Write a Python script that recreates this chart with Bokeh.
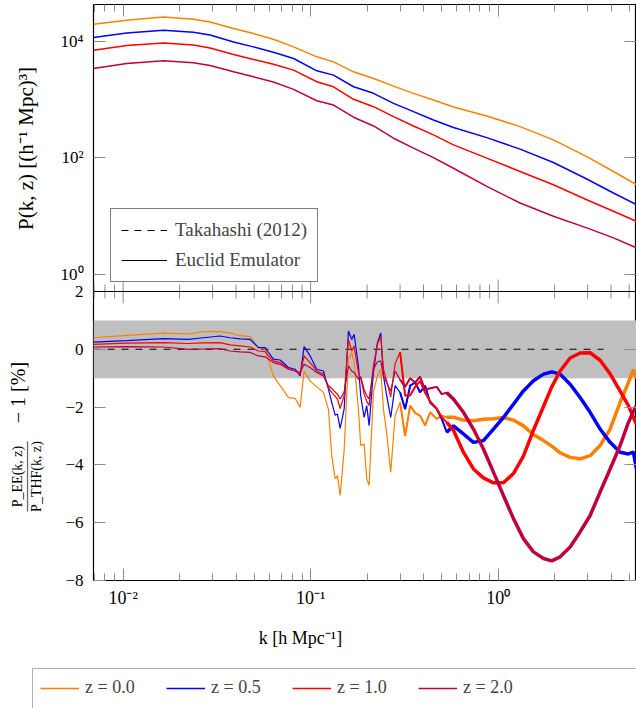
import math
from bokeh.plotting import figure
from bokeh.layouts import column, row
from bokeh.models import (Range1d, FixedTicker, LinearAxis, LogAxis, Legend, LegendItem,
                          BoxAnnotation, Label, Span, LogScale)
from bokeh.embed import file_html
from bokeh.resources import INLINE

FONT = "Liberation Serif"

# ---------------- data ----------------
redshift_labels = ["z = 0.0", "z = 0.5", "z = 1.0", "z = 2.0"]
series_colors = ["#FF8000", "#0000FF", "#FF0000", "#BF0040"]

# top panel: P(k, z)
k_pk = [0.00695, 0.01045, 0.0164, 0.0237, 0.0291, 0.0388, 0.0495, 0.0633, 0.0811, 0.1079,
        0.1324, 0.1694, 0.2165, 0.2768, 0.3535, 0.4519, 0.5777, 0.8697, 1.309, 1.971,
        2.969, 4.121, 5.47]
pk_z00 = [19560, 22870, 26000, 23770, 21390, 16490, 13550, 10820, 8000, 5400, 4430, 2990,
          2300, 1700, 1277, 980, 745, 523, 343, 203, 105, 58.3, 34.5]
pk_z05 = [11570, 13880, 15420, 14260, 12820, 9730, 8000, 6490, 5060, 3110, 2620, 1655,
          1277, 861, 619, 446, 332, 222, 141, 83.2, 43.3, 24.9, 15.7]
pk_z10 = [7020, 8440, 9350, 8640, 7680, 5930, 4870, 4040, 3195, 2015, 1655, 1008, 754,
          508, 352, 247, 167, 98.9, 58.4, 34.5, 19.1, 12.1, 8.15]
pk_z20 = [3413, 4155, 4605, 4256, 3847, 2989, 2453, 1992, 1493, 953, 805, 497, 352, 217,
          147, 101, 66.2, 32.3, 16.8, 9.93, 6.29, 4.24, 2.86]

# bottom panel: ratio P_EE / P_THF - 1 in percent
k_ratio = [0.00695, 0.01045, 0.0164, 0.0223, 0.0268, 0.0329, 0.0372, 0.0421, 0.0476, 0.0527,
           0.0572, 0.0595, 0.0633,
           0.0688, 0.0762, 0.0827, 0.0879, 0.0923, 0.0994, 0.1078, 0.1170, 0.1244, 0.1296,
           0.1351, 0.1390, 0.1437, 0.1509, 0.1591, 0.1657, 0.1706, 0.1798, 0.1850, 0.1929,
           0.1991, 0.2051, 0.2162, 0.2271, 0.2365, 0.2445, 0.2546, 0.2674, 0.2822, 0.3000,
           0.3192, 0.3394, 0.3608, 0.3837, 0.4080, 0.4338, 0.4705, 0.5003, 0.5319, 0.5775,
           0.6530, 0.7384, 0.8348, 0.9439, 1.067, 1.207, 1.364, 1.543, 1.745, 1.932, 2.142,
           2.421, 2.737, 3.095, 3.499, 3.956, 4.474, 4.953, 5.268, 5.465]
ratio_z00 = [0.40, 0.48, 0.56, 0.53, 0.61, 0.61, 0.57, 0.47, 0.44, 0.06, 0.00, -0.34, -0.92,
             -1.26, -1.67, -1.70, -2.01, -0.75, -1.10, -1.30, -1.49, -2.07, -3.68, -4.48, -4.37,
             -5.06, -3.50, -0.34, -0.11, -0.45, -2.07, -3.33, -3.28, -4.48, -4.71, -1.49, -0.92,
             -0.69, -2.07, -2.90, -4.25, -2.30, -1.84, -3.00, -1.95, -2.20, -2.30, -2.64, -2.18,
             -2.41, -2.30, -2.35, -2.35,
             -2.45, -2.47, -2.42, -2.40, -2.36, -2.45, -2.65, -2.95, -3.16, -3.35, -3.58, -3.74,
             -3.79, -3.68, -3.33, -2.76, -1.84, -1.15, -0.70, -1.00]
ratio_z05 = [0.25, 0.30, 0.37, 0.34, 0.40, 0.46, 0.40, 0.36, 0.34, 0.06, 0.06, -0.11, -0.34,
             -0.37, -0.63, -0.69, -0.92, 0.09, -0.23, -0.69, -0.75, -1.38, -1.84, -2.28, -2.24,
             -2.74, -2.07, 0.63, 0.34, 0.52, -0.57, -1.61, -2.36, -1.95, -2.64, -0.80, 0.23,
             0.57, -0.92, -1.61, -2.36, -1.26, -1.49, -2.07, -1.26, -1.15, -1.49, -1.26, -1.84,
             -2.07, -2.41, -2.87, -2.65,
             -2.93, -3.22, -3.16, -2.76, -2.36, -1.90, -1.44, -1.09, -0.86, -0.78, -0.86, -1.21,
             -1.67, -2.18, -2.76, -3.22, -3.56, -3.62, -3.56, -4.14]
ratio_z10 = [0.17, 0.21, 0.23, 0.20, 0.22, 0.23, 0.15, 0.12, 0.08, -0.06, -0.08, -0.23, -0.40,
             -0.46, -0.67, -0.75, -0.86, -0.23, -0.46, -0.75, -0.86, -1.32, -1.50, -1.62, -1.72,
             -2.05, -1.61, 0.34, -0.06, 0.11, -0.80, -1.00, -1.55, -1.80, -1.95, -0.57, 0.17,
             0.46, -0.69, -1.10, -1.65, -0.50, -0.10, -1.60, -1.60, -1.30, -1.10, -1.50, -1.80,
             -2.05, -2.35, -2.53, -2.80,
             -3.56, -4.14, -4.45, -4.62, -4.62, -4.30, -3.70, -2.80, -1.98, -1.30, -0.75, -0.30,
             -0.13, -0.12, -0.38, -0.85, -1.45, -1.95, -2.35, -2.60]
ratio_z20 = [0.08, 0.09, 0.08, 0.00, 0.01, 0.02, -0.06, -0.09, -0.11, -0.23, -0.26, -0.34, -0.46,
             -0.52, -0.69, -0.75, -0.80, -0.52, -0.63, -0.80, -0.92, -1.26, -1.35, -1.48, -1.55,
             -1.72, -1.49, -0.57, -0.75, -0.80, -1.03, -0.95, -1.40, -1.60, -1.72, -0.70, -0.43,
             -0.40, -0.92, -1.15, -1.45, -0.75, -1.05, -1.30, -1.00, -1.15, -0.95, -1.40, -1.35,
             -1.30, -1.55, -1.50, -1.72,
             -2.18, -2.76, -3.45, -4.25, -5.06, -5.86, -6.55, -7.01, -7.24, -7.32, -7.18, -6.84,
             -6.32, -5.75, -4.94, -4.14, -3.33, -2.53, -2.15, -1.95]

zero_line_k = [0.00695, 3.65]
zero_line_r = [0.0, 0.0]
band_low, band_high = -1.0, 1.0

legend_top_labels = ["Takahashi (2012)", "Euclid Emulator"]

x_major = [0.01, 0.1, 1.0]
x_major_labels = ["10⁻²", "10⁻¹", "10⁰"]
x_minor = [0.007, 0.008, 0.009, 0.02, 0.03, 0.04, 0.05, 0.06, 0.07, 0.08, 0.09,
           0.2, 0.3, 0.4, 0.5, 0.6, 0.7, 0.8, 0.9, 2.0, 3.0, 4.0, 5.0]
y_top_major = [1.0, 100.0, 10000.0]
y_top_labels = ["10⁰", "10²", "10⁴"]
y_bot_major = [-8, -6, -4, -2, 0, 2]
y_bot_labels = ["−8", "−6", "−4", "−2", "0", "2"]

title_top = "P(k, z) [(h⁻¹ Mpc)³]"
title_num = "P_EE(k, z)"
title_den = "P_THF(k, z)"
title_bar = "—————"
title_rest = "− 1 [%]"
title_x = "k [h Mpc⁻¹]"

# ---------------- layout constants ----------------
W = 636
STRIP = 55          # width of the strip holding the y titles
AXIS_W = 38         # left border of the main plot (tick labels)
TOP_B, BOT_B = 4, 28
MAIN_H = 610
TICK_COLOR = "#8c8c8c"
LIN_LO, LIN_HI = -8.0, 11.93            # linear (ratio) range over the whole frame
PK_LO, PK_HI = 10 ** -5.25, 10 ** 4.63  # log (power spectrum) range over the whole frame
SEP = 2.0                               # panel boundary in ratio units
MAJ_LEN, MIN_LEN = 12 / 29.0, 7 / 29.0  # tick lengths in ratio units (29 px per unit)


def pk_to_lin(v):
    # position of a log-range value on the linear range sharing the same frame
    f = (math.log10(v) - math.log10(PK_LO)) / (math.log10(PK_HI) - math.log10(PK_LO))
    return LIN_LO + f * (LIN_HI - LIN_LO)


def no_align(fig):
    if hasattr(fig, "frame_align"):
        fig.frame_align = False


def style_axis(ax, labels=True):
    ax.major_tick_in = 12
    ax.major_tick_out = 0
    ax.minor_tick_in = 7
    ax.minor_tick_out = 0
    ax.major_tick_line_color = TICK_COLOR
    ax.minor_tick_line_color = TICK_COLOR
    ax.axis_line_color = None
    ax.major_label_text_font = FONT
    ax.major_label_text_color = "black"
    if labels:
        ax.major_label_text_font_size = "17px"
        ax.major_label_standoff = 10
    else:
        ax.major_label_text_font_size = "0px"
        ax.major_label_standoff = 0
        ax.major_label_text_alpha = 0


y_lin = Range1d(LIN_LO, LIN_HI)
p = figure(width=W - STRIP, height=MAIN_H, x_axis_type="log", x_range=Range1d(0.00695, 5.47),
           y_range=y_lin, output_backend="svg", toolbar_location=None,
           x_axis_location=None, y_axis_location=None,
           min_border_left=AXIS_W, min_border_right=0, min_border_top=TOP_B,
           min_border_bottom=BOT_B)
no_align(p)
p.extra_y_ranges = {"pk": Range1d(PK_LO, PK_HI)}
p.extra_y_scales = {"pk": LogScale()}
p.grid.visible = False
p.outline_line_color = "black"
p.outline_line_width = 1.2

# y axes: ratio ticks + power-spectrum ticks on one shared left/right axis
left_ticks = [float(v) for v in y_bot_major] + [pk_to_lin(v) for v in y_top_major]
left_labels = y_bot_labels + y_top_labels
ax = LinearAxis(ticker=FixedTicker(ticks=left_ticks, minor_ticks=[]))
style_axis(ax)
ax.major_label_overrides = dict(zip(left_ticks, left_labels))
p.add_layout(ax, "left")
ax = LinearAxis(ticker=FixedTicker(ticks=left_ticks, minor_ticks=[]))
style_axis(ax, labels=False)
p.add_layout(ax, "right")

ax = LogAxis(ticker=FixedTicker(ticks=x_major, minor_ticks=x_minor))
style_axis(ax, labels=False)
p.add_layout(ax, "above")
ax = LogAxis(ticker=FixedTicker(ticks=x_major, minor_ticks=x_minor))
style_axis(ax)
ax.major_label_standoff = 7
ax.major_label_text_font_size = "18px"
ax.major_label_overrides = dict(zip(x_major, x_major_labels))
p.add_layout(ax, "below")

# panel boundary with its ticks on both sides
p.add_layout(Span(location=SEP, dimension="width", line_color="black", line_width=1.2))
p.segment(x0=x_major, x1=x_major, y0=[SEP - MAJ_LEN] * len(x_major),
          y1=[SEP + MAJ_LEN] * len(x_major), line_color=TICK_COLOR, line_width=1)
p.segment(x0=x_minor, x1=x_minor, y0=[SEP - MIN_LEN] * len(x_minor),
          y1=[SEP + MIN_LEN] * len(x_minor), line_color=TICK_COLOR, line_width=1)

# ---- top panel curves (log range) ----
pk_series = [pk_z00, pk_z05, pk_z10, pk_z20]
for pk, col in zip(pk_series, series_colors):
    p.line(k_pk, pk, line_color=col, line_width=1.5, y_range_name="pk")

nan = float("nan")
dash_r = p.line(x=[nan], y=[nan], line_color="black", line_width=1, line_dash="7 6")
solid_r = p.line(x=[nan], y=[nan], line_color="black", line_width=1)
leg_top = Legend(items=[LegendItem(label=legend_top_labels[0], renderers=[dash_r]),
                        LegendItem(label=legend_top_labels[1], renderers=[solid_r])],
                 location=(17, 298), orientation="vertical")
leg_top.label_text_font = FONT
leg_top.label_text_font_size = "19px"
leg_top.glyph_width = 46
leg_top.glyph_height = 20
leg_top.label_height = 20
leg_top.label_standoff = 8
leg_top.spacing = 8
leg_top.padding = 10
leg_top.margin = 0
leg_top.border_line_color = "black"
leg_top.border_line_width = 1
leg_top.background_fill_alpha = 1
p.add_layout(leg_top, "center")

# ---- bottom panel (linear range) ----
p.add_layout(BoxAnnotation(bottom=band_low, top=band_high, fill_color="#BFBFBF",
                           fill_alpha=1.0, line_color=None, level="underlay"))
p.line(zero_line_k, zero_line_r, line_color="black", line_width=1.1, line_dash="7 7")

ratio_series = [ratio_z00, ratio_z05, ratio_z10, ratio_z20]
i_mid, i_high = 42, 51   # noisy part of the measured ratios
for r, col in zip(ratio_series, series_colors):
    p.line(k_ratio, r, line_color=col, line_width=1.2)
    p.line(k_ratio[i_mid:], r[i_mid:], line_color=col, line_width=2.0)
    p.line(k_ratio[i_high:], r[i_high:], line_color=col, line_width=3.5)

# ---------------- strip with the y titles (same vertical range as the plot) ----------------
strip = figure(width=STRIP, height=MAIN_H, x_range=Range1d(0, STRIP), y_range=y_lin,
               output_backend="svg", toolbar_location=None, x_axis_location=None,
               y_axis_location=None, min_border_left=0, min_border_right=0,
               min_border_top=TOP_B, min_border_bottom=BOT_B)
no_align(strip)
strip.grid.visible = False
strip.outline_line_color = None


def add_label(fig, text, x, y, size, angle=0.0):
    fig.add_layout(Label(x=x, y=y, text=text, angle=angle, text_align="center",
                         text_baseline="middle", text_font=FONT, text_font_size=size,
                         text_color="black"))


add_label(strip, title_top, 25, 6.966, "21px", math.pi / 2)
add_label(strip, title_num, 17, -4.345, "14px", math.pi / 2)
add_label(strip, title_bar, 26, -4.345, "14px", math.pi / 2)
add_label(strip, title_den, 36, -4.345, "14px", math.pi / 2)
add_label(strip, title_rest, 17, -1.45, "20px", math.pi / 2)

# ---------------- bottom strip: x title and series legend ----------------
BOT_H = 708 - MAIN_H
lg = figure(width=W, height=BOT_H, x_range=Range1d(0, W), y_range=Range1d(0, BOT_H),
            output_backend="svg", toolbar_location=None, x_axis_location=None,
            y_axis_location=None, min_border_left=0, min_border_right=0,
            min_border_top=0, min_border_bottom=0)
no_align(lg)
lg.grid.visible = False
lg.outline_line_color = None
add_label(lg, title_x, 300, BOT_H - 27, "18px")

# legend frame (open towards the right and bottom edges, as in the original)
lg.add_layout(BoxAnnotation(left=32, right=W + 20, bottom=-10, top=40, fill_color="white",
                            fill_alpha=1.0, line_color="black", line_width=1))

items = []
for lab, col in zip(redshift_labels, series_colors):
    rr = lg.line(x=[nan], y=[nan], line_color=col, line_width=1.3)
    items.append(LegendItem(label=lab, renderers=[rr]))
leg_b = Legend(items=items, location=(32, 2), orientation="horizontal")
leg_b.label_text_font = FONT
leg_b.label_text_font_size = "18px"
leg_b.glyph_width = 39
leg_b.glyph_height = 20
leg_b.label_height = 20
leg_b.label_width = 81
leg_b.label_standoff = 6
leg_b.spacing = 0
leg_b.padding = 8
leg_b.margin = 0
leg_b.border_line_color = "black"
leg_b.border_line_alpha = 0
leg_b.background_fill_alpha = 0
lg.add_layout(leg_b, "center")

layout = column(row(strip, p, spacing=0), lg, spacing=0)
open("out.html", "w").write(file_html(layout, INLINE))
